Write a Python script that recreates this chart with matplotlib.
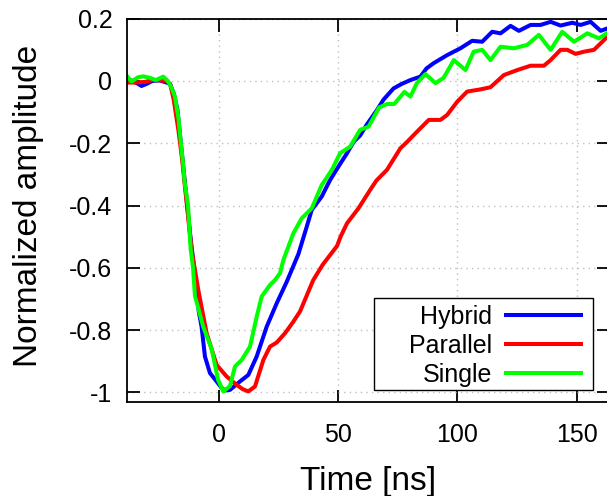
import numpy as np
import matplotlib.pyplot as plt
from matplotlib.patches import Rectangle

plt.rcParams['font.family'] = ['Liberation Sans', 'DejaVu Sans']

# Hybrid (azul)
t_hybrid = [-38.6, -36, -32.5, -30, -28, -25, -22, -20.5, -19, -17.5, -16, -14, -12, -10,
            -8.5, -7.3, -5.9, -3.8, -1, 1, 2.5, 4.6, 6.5, 8.8, 12.3, 15.8, 20, 24.2, 28.4,
            33.3, 36.8, 38.9, 43.1, 46.6, 50.1, 53.7, 56.5, 59.2, 62, 66.3, 69, 73.2, 76.5,
            80.3, 84.5, 87, 90, 95.7, 101.3, 106.2, 110.4, 114.6, 118.1, 122.3, 125.8,
            130.7, 134.9, 139.1, 143.3, 148.2, 151.7, 155.9, 160.1, 164]
amp_hybrid = [0.004, 0.0, -0.016, -0.008, 0.0, 0.002, -0.005, -0.01, -0.04, -0.09, -0.2, -0.35,
              -0.5, -0.63, -0.74, -0.79, -0.885, -0.938, -0.965, -0.985, -0.994, -0.992, -0.98,
              -0.965, -0.944, -0.885, -0.789, -0.714, -0.645, -0.556, -0.468, -0.414, -0.371,
              -0.318, -0.275, -0.232, -0.195, -0.175, -0.14, -0.093, -0.06, -0.024, -0.01,
              0.003, 0.014, 0.04, 0.057, 0.083, 0.105, 0.129, 0.126, 0.158, 0.153, 0.177,
              0.161, 0.18, 0.18, 0.19, 0.178, 0.187, 0.18, 0.19, 0.161, 0.172]

# Parallel (rojo)
t_parallel = [-38.6, -35, -31, -28, -25, -22, -20.5, -19, -17, -15.5, -14, -12.5, -11.5, -8.7,
              -5.2, -1, 3.2, 7.4, 10, 12.3, 15.1, 18.6, 21.4, 24.2, 27.7, 31, 34, 39.5, 43.5,
              47, 49.5, 51, 53.7, 58.5, 63.4, 66, 70.5, 76.1, 79, 82.4, 88, 92.9, 95.7, 100,
              104.1, 109.7, 113.9, 119.5, 125.1, 130.7, 136.3, 139.1, 143.3, 146.1, 149.6,
              153.1, 157.3, 164]
amp_parallel = [-0.005, -0.005, -0.003, 0.003, 0.002, 0.0, -0.01, -0.06, -0.16, -0.25, -0.36,
                -0.47, -0.543, -0.671, -0.81, -0.912, -0.949, -0.976, -0.99, -0.997, -0.981,
                -0.896, -0.853, -0.84, -0.81, -0.775, -0.74, -0.64, -0.59, -0.555, -0.53, -0.5,
                -0.457, -0.409, -0.35, -0.32, -0.285, -0.216, -0.195, -0.168, -0.125, -0.125,
                -0.109, -0.066, -0.034, -0.027, -0.02, 0.019, 0.035, 0.049, 0.049, 0.067, 0.1,
                0.1, 0.087, 0.094, 0.1, 0.15]

# Single (verde)
t_single = [-38.6, -36.7, -34, -31.7, -29, -26.5, -24.5, -23.4, -21.5, -20, -18.5, -17, -16,
            -15, -14.5, -13, -11.9, -10.9, -10.1, -6.6, -3.1, -0.4, 1.8, 4.6, 6.7, 9.5, 13,
            15.8, 17.9, 21.4, 23.5, 25.6, 27, 31.2, 34.7, 38.9, 43.1, 47.3, 50.8, 55, 59.2,
            62.7, 67.2, 70.5, 73.5, 77.8, 80.3, 83, 86.6, 90.8, 94.2, 98.5, 103.4, 106.8,
            110.4, 113.9, 118.1, 123.7, 129.3, 134.2, 139.1, 144, 148.9, 154.5, 159.4, 164]
amp_single = [0.016, -0.002, 0.012, 0.015, 0.01, 0.003, 0.01, 0.014, 0.0, -0.02, -0.05, -0.12,
              -0.2, -0.27, -0.32, -0.4, -0.54, -0.6, -0.69, -0.79, -0.86, -0.96, -0.997, -0.98,
              -0.917, -0.896, -0.853, -0.757, -0.692, -0.655, -0.639, -0.617, -0.575, -0.489,
              -0.441, -0.409, -0.334, -0.286, -0.232, -0.211, -0.157, -0.147, -0.085, -0.074,
              -0.074, -0.035, -0.05, -0.007, 0.022, -0.007, 0.01, 0.067, 0.035, 0.094, 0.1,
              0.067, 0.11, 0.105, 0.116, 0.148, 0.1, 0.158, 0.126, 0.153, 0.137, 0.16]

xticks = [0, 50, 100, 150]
yticks = [-1, -0.8, -0.6, -0.4, -0.2, 0, 0.2]
ytick_labels = ['-1', '-0.8', '-0.6', '-0.4', '-0.2', '0', '0.2']

fig = plt.figure(figsize=(6.07, 4.96), dpi=100)
ax = fig.add_axes([127 / 607, 94 / 496, 482 / 607, 383.3 / 496])

lw = 2.9
ax.plot(t_hybrid, amp_hybrid, color='#0000ff', lw=lw, label='Hybrid')
ax.plot(t_parallel, amp_parallel, color='#ff0000', lw=lw, label='Parallel')
ax.plot(t_single, amp_single, color='#00ff00', lw=lw, label='Single')

ax.set_xlim(-38.6, 163.6)
ax.set_ylim(-1.031, 0.2)
ax.set_xticks(xticks)
ax.set_xticklabels([str(v) for v in xticks])
ax.set_yticks(yticks)
ax.set_yticklabels(ytick_labels)

ax.tick_params(direction='in', length=9, width=1.3, labelsize=18, top=True, right=True)
ax.tick_params(axis='x', pad=15)
ax.tick_params(axis='y', pad=10.5)
for s in ax.spines.values():
    s.set_linewidth(1.3)

ax.grid(True, color='#c0c0c0', linestyle=(0, (1, 3)), linewidth=1)
ax.set_axisbelow(True)

ax.set_xlabel('Time [ns]', fontsize=24)
ax.set_ylabel('Normalized amplitude', fontsize=24)
ax.xaxis.set_label_coords(0.5, -0.167)
ax.yaxis.set_label_coords(-0.173, 0.511)

# Leyenda con marco propio
ax.add_patch(Rectangle((0.5124, 0.0313), 0.4544, 0.240, transform=ax.transAxes,
                       facecolor='white', edgecolor='black', lw=1, zorder=5))
leg = ax.legend(loc='lower right', bbox_to_anchor=(0.942, 0.039), frameon=False,
                markerfirst=False, fontsize=18, handlelength=3, handletextpad=0.55,
                borderpad=0, borderaxespad=0, labelspacing=0.2)
leg.set_zorder(6)

fig.savefig('out.png', dpi=100)
